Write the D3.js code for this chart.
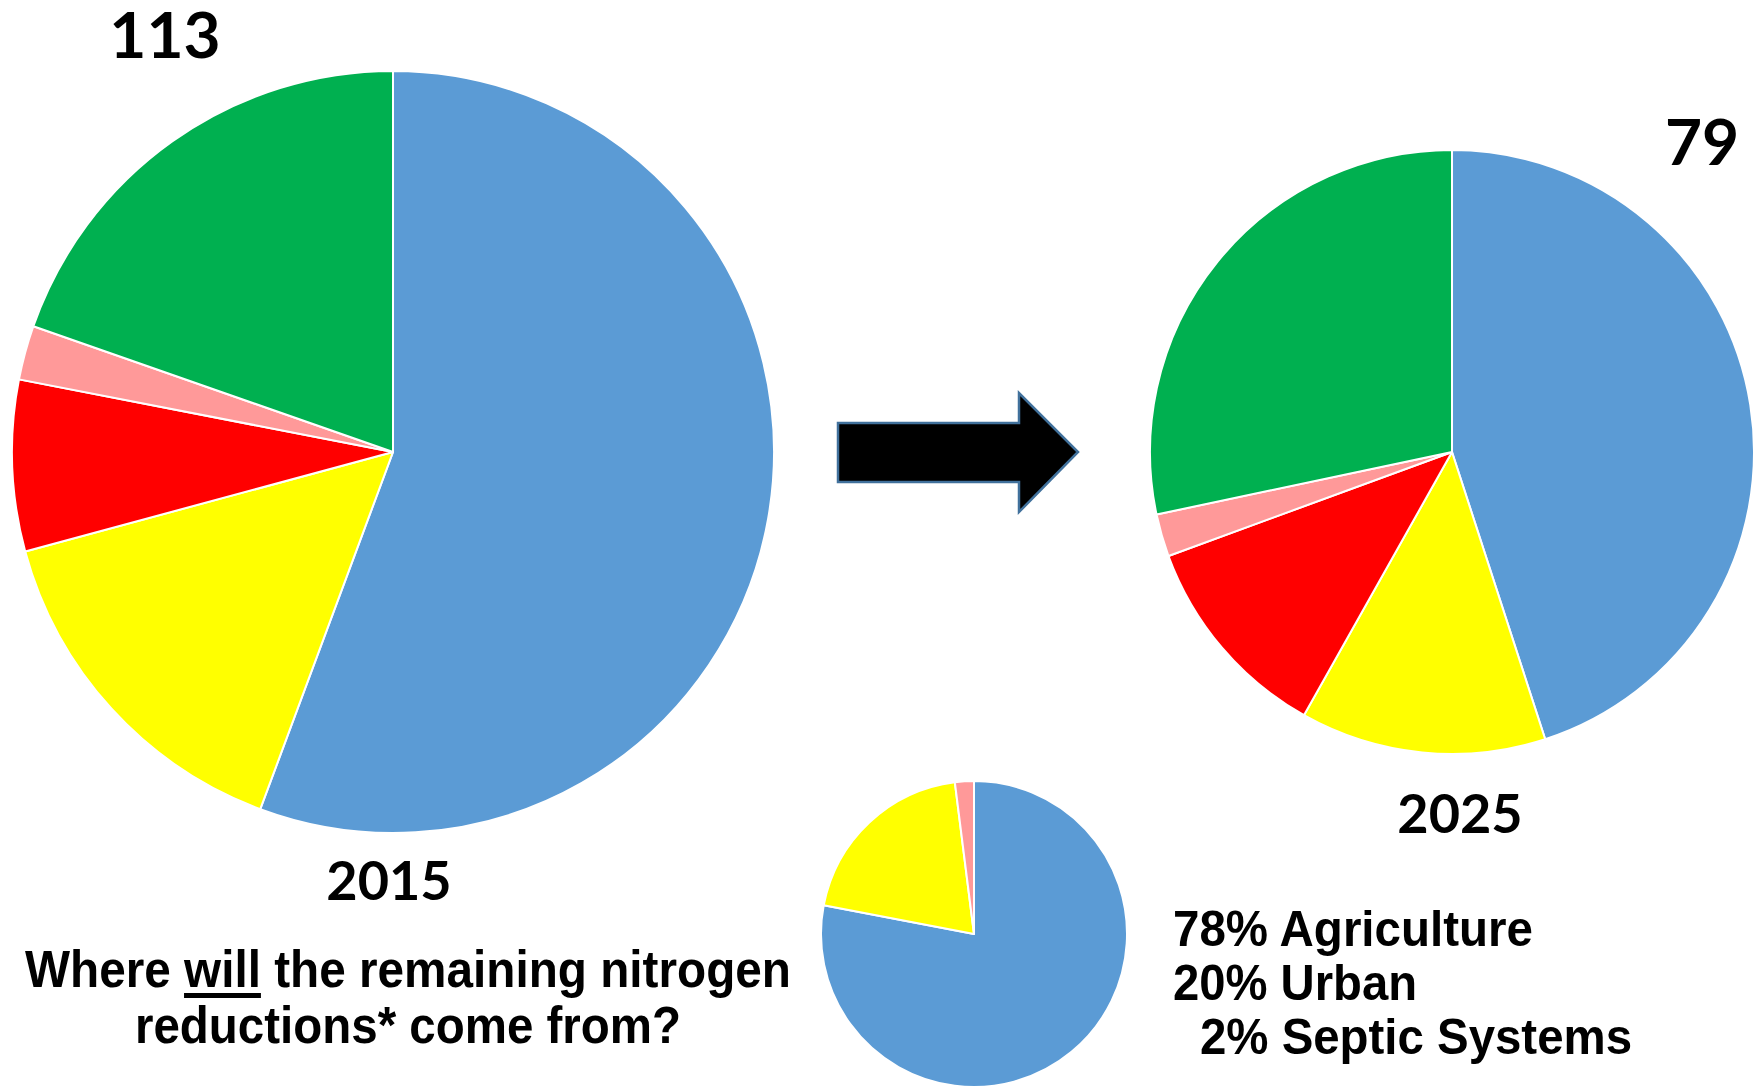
<!DOCTYPE html>
<html>
<head>
<meta charset="utf-8">
<script src="https://cdn.jsdelivr.net/npm/d3@7"></script>
<style>
  html, body { margin: 0; padding: 0; background: #ffffff; }
  svg { display: block; }
</style>
</head>
<body>
<svg id="chart" width="1760" height="1088"></svg>
<script>

//Nitrogen loads by source (million lbs), slices go clockwise from 12 o'clock
var sources = ["Agriculture", "Urban", "Wastewater", "Septic", "Natural"];
var colors = ["#5B9BD5", "#FFFF00", "#FF0000", "#FF9999", "#00B050"];
var loads2015 = [62.9, 17.1, 8.2, 2.6, 22.2];
var loads2025 = [35.6, 10.4, 8.9, 1.8, 22.4];
var totals = ["113", "79"];
var years = ["2015", "2025"];

//Share of the remaining reductions
var shareSources = ["Agriculture", "Urban", "Septic Systems"];
var shareColors = ["#5B9BD5", "#FFFF00", "#FF9999"];
var shareValues = [78, 20, 2];
var shareLabels = ["78% Agriculture", "20% Urban", "2% Septic Systems"];

var questionLines = ["Where will the remaining nitrogen", "reductions* come from?"];

var svg = d3.select("#chart");

var pie = d3.pie().sort(null).value(d => d.value);

function drawPie(values, names, fills, cx, cy, r) {
    var g = svg.append("g").attr("transform", `translate(${cx},${cy})`);
    var arc = d3.arc().innerRadius(0).outerRadius(r);
    var rows = values.map((v, i) => ({ name: names[i], value: v, color: fills[i] }));

    g.selectAll("path")
        .data(pie(rows))
        .enter()
        .append("path")
        .attr("d", arc)
        .attr("fill", d => d.data.color)
        .attr("stroke", "#ffffff")
        .attr("stroke-width", 2)
        .attr("stroke-linejoin", "round");
}

//2015 and 2025 pies, plus the small breakdown pie
drawPie(loads2015, sources, colors, 393, 452, 381);
drawPie(loads2025, sources, colors, 1452, 452, 302);
drawPie(shareValues, shareSources, shareColors, 974, 934, 153);

//Big arrow between the two years
var arrowPts = [[838, 423], [1019, 423], [1019, 393], [1078, 452], [1019, 512], [1019, 482], [838, 482]];
svg.append("path")
    .attr("d", d3.line()(arrowPts) + "Z")
    .attr("fill", "#000000")
    .attr("stroke", "#41719C")
    .attr("stroke-width", 2.5)
    .attr("stroke-linejoin", "miter");

//Totals and years
var numFont = "Lato, 'Open Sans', sans-serif";
svg.append("text").attr("x", 165).attr("y", 58).text(totals[0])
    .attr("font-family", numFont).attr("font-weight", 700).attr("font-size", 64).attr("text-anchor", "middle");
svg.append("text").attr("x", 1702).attr("y", 165).text(totals[1])
    .attr("font-family", numFont).attr("font-weight", 700).attr("font-size", 64).attr("text-anchor", "middle");
svg.append("text").attr("x", 389).attr("y", 900).text(years[0])
    .attr("font-family", numFont).attr("font-weight", 700).attr("font-size", 54).attr("text-anchor", "middle");
svg.append("text").attr("x", 1460).attr("y", 833).text(years[1])
    .attr("font-family", numFont).attr("font-weight", 700).attr("font-size", 54).attr("text-anchor", "middle");

//Question at the bottom left, "will" is underlined
var textFont = "'Liberation Sans Narrow', 'Liberation Sans', Arial, sans-serif";
var q1 = svg.append("text")
    .attr("x", 25).attr("y", 987)
    .attr("textLength", 766).attr("lengthAdjust", "spacingAndGlyphs")
    .attr("font-family", textFont).attr("font-weight", 700).attr("font-size", 52)
    .text(questionLines[0]);

svg.append("text")
    .attr("x", 135).attr("y", 1043)
    .attr("textLength", 546).attr("lengthAdjust", "spacingAndGlyphs")
    .attr("font-family", textFont).attr("font-weight", 700).attr("font-size", 52)
    .text(questionLines[1]);

//underline sits under the characters of "will"
var qNode = q1.node();
var wFirst = qNode.getExtentOfChar(6);
var wLast = qNode.getExtentOfChar(9);
svg.append("rect")
    .attr("x", wFirst.x).attr("y", 993)
    .attr("width", wLast.x + wLast.width - wFirst.x).attr("height", 5)
    .attr("fill", "#000000");

//Legend for the small pie
var shareX = [1173, 1173, 1200];
var shareW = [360, 244, 432];
svg.selectAll(".share")
    .data(shareLabels)
    .enter()
    .append("text")
    .attr("class", "share")
    .attr("x", (d, i) => shareX[i])
    .attr("y", (d, i) => 946 + i * 54)
    .attr("textLength", (d, i) => shareW[i]).attr("lengthAdjust", "spacingAndGlyphs")
    .attr("font-family", "'Liberation Sans', Arial, sans-serif").attr("font-weight", 700).attr("font-size", 50)
    .text(d => d);

</script>
</body>
</html>
